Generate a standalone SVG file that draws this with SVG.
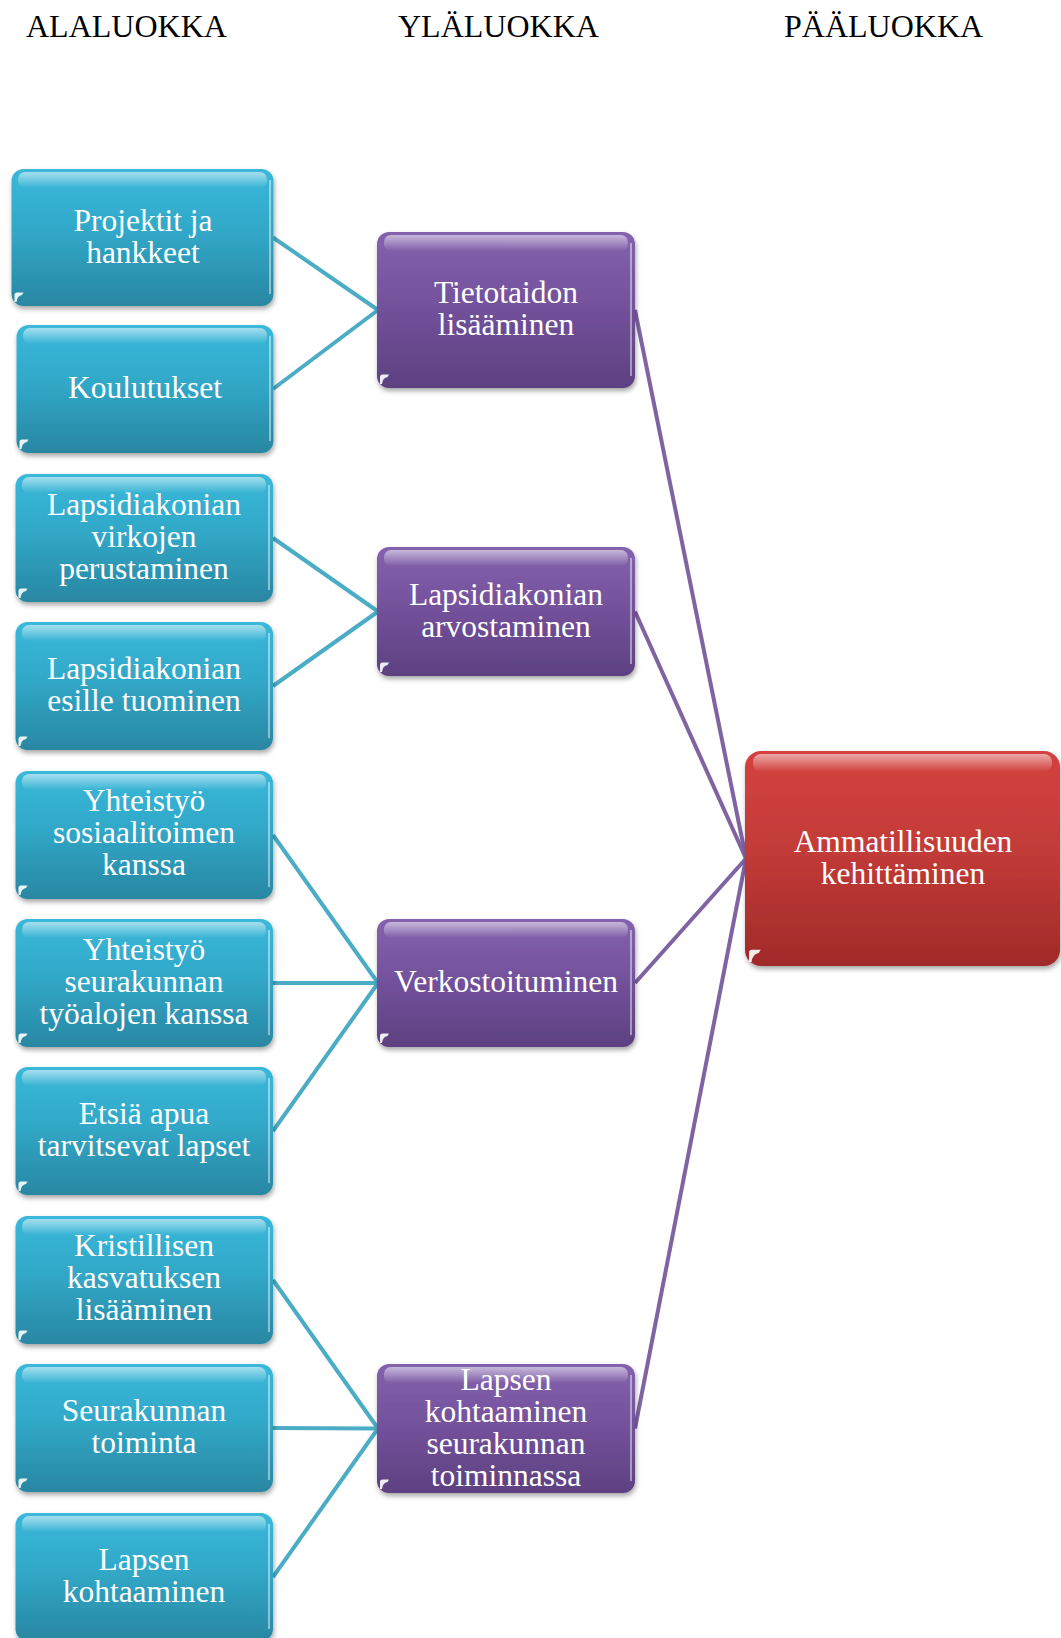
<svg xmlns="http://www.w3.org/2000/svg" width="1061" height="1638" viewBox="0 0 1061 1638">
<defs>
<linearGradient id="gTeal" x1="0" y1="0" x2="0" y2="1">
<stop offset="0" stop-color="#3ab8da"/><stop offset="0.45" stop-color="#31a8c8"/><stop offset="1" stop-color="#2987a2"/>
</linearGradient>
<linearGradient id="gPurple" x1="0" y1="0" x2="0" y2="1">
<stop offset="0" stop-color="#8462ad"/><stop offset="0.45" stop-color="#74529c"/><stop offset="1" stop-color="#5d4181"/>
</linearGradient>
<linearGradient id="gRed" x1="0" y1="0" x2="0" y2="1">
<stop offset="0" stop-color="#d4423f"/><stop offset="0.45" stop-color="#c33b38"/><stop offset="1" stop-color="#a02a29"/>
</linearGradient>
<linearGradient id="gHi" x1="0" y1="0" x2="0" y2="1">
<stop offset="0" stop-color="#ffffff" stop-opacity="0.55"/><stop offset="1" stop-color="#ffffff" stop-opacity="0"/>
</linearGradient>
<filter id="sh" x="-10%" y="-10%" width="120%" height="125%">
<feGaussianBlur in="SourceAlpha" stdDeviation="2.5"/>
<feOffset dx="1" dy="3" result="b"/>
<feFlood flood-color="#000" flood-opacity="0.35"/>
<feComposite in2="b" operator="in"/>
<feMerge><feMergeNode/><feMergeNode in="SourceGraphic"/></feMerge>
</filter>
<path id="dot" d="M0 0 V-7 q0 -2.5 2.5 -2.5 h6.5 l-1.5 2.5 q-5 1 -5.5 7 z" fill="#ffffff" fill-opacity="0.9"/>
</defs>
<style>
.hdr{font-family:"Liberation Serif","Times New Roman",serif;font-size:32px;fill:#000}
.t{font-family:"Liberation Serif","Times New Roman",serif;font-size:31.5px;fill:#fff;text-anchor:middle}
.teal{fill:url(#gTeal)}
.purple{fill:url(#gPurple)}
.red{fill:url(#gRed)}
.hi{fill:url(#gHi)}
.edge{fill:none;stroke:#ffffff;stroke-opacity:0.45;stroke-width:2}
.ct{stroke:#4bacc6;stroke-width:4;fill:none}
.cp{stroke:#8064a2;stroke-width:4;fill:none}
</style>
<text class="hdr" x="26" y="36.5">ALALUOKKA</text>
<text class="hdr" x="398" y="36.5">YLÄLUOKKA</text>
<text class="hdr" x="784" y="36.5">PÄÄLUOKKA</text>
<g id="connectors">
<line class="ct" x1="273" y1="237.5" x2="378" y2="310"/>
<line class="ct" x1="273" y1="389" x2="378" y2="310"/>
<line class="ct" x1="273" y1="538" x2="378" y2="611.5"/>
<line class="ct" x1="273" y1="686" x2="378" y2="611.5"/>
<line class="ct" x1="273" y1="835" x2="378" y2="983"/>
<line class="ct" x1="273" y1="983" x2="378" y2="983"/>
<line class="ct" x1="273" y1="1131" x2="378" y2="983"/>
<line class="ct" x1="273" y1="1280" x2="378" y2="1428.5"/>
<line class="ct" x1="273" y1="1428" x2="378" y2="1428.5"/>
<line class="ct" x1="273" y1="1577" x2="378" y2="1428.5"/>
<line class="cp" x1="635" y1="310" x2="746" y2="858.5"/>
<line class="cp" x1="635" y1="611.5" x2="746" y2="858.5"/>
<line class="cp" x1="635" y1="983" x2="746" y2="858.5"/>
<line class="cp" x1="635" y1="1428.5" x2="746" y2="858.5"/>
</g>
<g id="n1"><rect class="teal" filter="url(#sh)" x="11.5" y="169" width="262" height="137" rx="12"/><rect class="hi" x="18" y="172" width="249" height="16" rx="7"/><path class="edge" d="M270 180 V294"/><use href="#dot" x="14.5" y="302"/><text class="t" x="143" y="230.5">Projektit ja</text><text class="t" x="143" y="262.5">hankkeet</text></g>
<g id="n2"><rect class="teal" filter="url(#sh)" x="16.5" y="325" width="257" height="128" rx="12"/><rect class="hi" x="23" y="328" width="244" height="16" rx="7"/><path class="edge" d="M270 336 V441"/><use href="#dot" x="19.5" y="449"/><text class="t" x="145" y="398">Koulutukset</text></g>
<g id="n3"><rect class="teal" filter="url(#sh)" x="15.5" y="474" width="257.5" height="128" rx="12"/><rect class="hi" x="22" y="477" width="244" height="16" rx="7"/><path class="edge" d="M269 485 V590"/><use href="#dot" x="18.5" y="598"/><text class="t" x="144" y="515">Lapsidiakonian</text><text class="t" x="144" y="547">virkojen</text><text class="t" x="144" y="579">perustaminen</text></g>
<g id="n4"><rect class="teal" filter="url(#sh)" x="15.5" y="622" width="257.5" height="128" rx="12"/><rect class="hi" x="22" y="625" width="244" height="16" rx="7"/><path class="edge" d="M269 633 V738"/><use href="#dot" x="18.5" y="746"/><text class="t" x="144" y="679">Lapsidiakonian</text><text class="t" x="144" y="711">esille tuominen</text></g>
<g id="n5"><rect class="teal" filter="url(#sh)" x="15.5" y="771" width="257.5" height="128" rx="12"/><rect class="hi" x="22" y="774" width="244" height="16" rx="7"/><path class="edge" d="M269 782 V887"/><use href="#dot" x="18.5" y="895"/><text class="t" x="144" y="811">Yhteistyö</text><text class="t" x="144" y="843">sosiaalitoimen</text><text class="t" x="144" y="875">kanssa</text></g>
<g id="n6"><rect class="teal" filter="url(#sh)" x="15.5" y="919" width="257.5" height="128" rx="12"/><rect class="hi" x="22" y="922" width="244" height="16" rx="7"/><path class="edge" d="M269 930 V1035"/><use href="#dot" x="18.5" y="1043"/><text class="t" x="144" y="960">Yhteistyö</text><text class="t" x="144" y="992">seurakunnan</text><text class="t" x="144" y="1024">työalojen kanssa</text></g>
<g id="n7"><rect class="teal" filter="url(#sh)" x="15.5" y="1067" width="257.5" height="128" rx="12"/><rect class="hi" x="22" y="1070" width="244" height="16" rx="7"/><path class="edge" d="M269 1078 V1183"/><use href="#dot" x="18.5" y="1191"/><text class="t" x="144" y="1124">Etsiä apua</text><text class="t" x="144" y="1156">tarvitsevat lapset</text></g>
<g id="n8"><rect class="teal" filter="url(#sh)" x="15.5" y="1216" width="257.5" height="128" rx="12"/><rect class="hi" x="22" y="1219" width="244" height="16" rx="7"/><path class="edge" d="M269 1227 V1332"/><use href="#dot" x="18.5" y="1340"/><text class="t" x="144" y="1256">Kristillisen</text><text class="t" x="144" y="1288">kasvatuksen</text><text class="t" x="144" y="1320">lisääminen</text></g>
<g id="n9"><rect class="teal" filter="url(#sh)" x="15.5" y="1364" width="257.5" height="128" rx="12"/><rect class="hi" x="22" y="1367" width="244" height="16" rx="7"/><path class="edge" d="M269 1375 V1480"/><use href="#dot" x="18.5" y="1488"/><text class="t" x="144" y="1421">Seurakunnan</text><text class="t" x="144" y="1453">toiminta</text></g>
<g id="n10"><rect class="teal" filter="url(#sh)" x="15.5" y="1513" width="257.5" height="128" rx="12"/><rect class="hi" x="22" y="1516" width="244" height="16" rx="7"/><path class="edge" d="M269 1524 V1629"/><text class="t" x="144" y="1570">Lapsen</text><text class="t" x="144" y="1602">kohtaaminen</text></g>
<g id="m1"><rect class="purple" filter="url(#sh)" x="377" y="232" width="258" height="156" rx="12"/><rect class="hi" x="384" y="235" width="244" height="16" rx="7"/><path class="edge" d="M631 243 V376"/><use href="#dot" x="380" y="384"/><text class="t" x="506" y="303">Tietotaidon</text><text class="t" x="506" y="335">lisääminen</text></g>
<g id="m2"><rect class="purple" filter="url(#sh)" x="377" y="547" width="258" height="129" rx="12"/><rect class="hi" x="384" y="550" width="244" height="16" rx="7"/><path class="edge" d="M631 558 V664"/><use href="#dot" x="380" y="672"/><text class="t" x="506" y="604.5">Lapsidiakonian</text><text class="t" x="506" y="636.5">arvostaminen</text></g>
<g id="m3"><rect class="purple" filter="url(#sh)" x="377" y="919" width="258" height="128" rx="12"/><rect class="hi" x="384" y="922" width="244" height="16" rx="7"/><path class="edge" d="M631 930 V1035"/><use href="#dot" x="380" y="1043"/><text class="t" x="506" y="992">Verkostoituminen</text></g>
<g id="m4"><rect class="purple" filter="url(#sh)" x="377" y="1364" width="258" height="129" rx="12"/><rect class="hi" x="384" y="1367" width="244" height="16" rx="7"/><path class="edge" d="M631 1375 V1481"/><use href="#dot" x="380" y="1489"/><text class="t" x="506" y="1389.5">Lapsen</text><text class="t" x="506" y="1421.5">kohtaaminen</text><text class="t" x="506" y="1453.5">seurakunnan</text><text class="t" x="506" y="1485.5">toiminnassa</text></g>
<g id="r1"><rect class="red" filter="url(#sh)" x="745" y="751" width="315" height="215" rx="16"/><rect class="hi" x="753" y="754" width="299" height="18" rx="8"/><use href="#dot" transform="translate(749 962) scale(1.3)"/><text class="t" x="903" y="851.5">Ammatillisuuden</text><text class="t" x="903" y="883.5">kehittäminen</text></g>
</svg>
